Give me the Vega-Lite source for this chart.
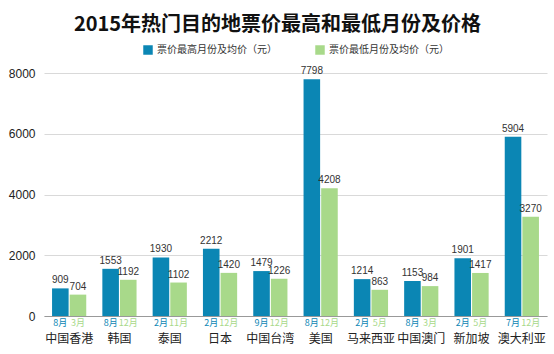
{
  "$schema": "https://vega.github.io/schema/vega-lite/v6.json",
  "width": 503,
  "height": 243,
  "autosize": {"type": "none"},
  "padding": {"left": 44, "top": 73, "right": 7, "bottom": 38},
  "background": "white",
  "config": {
    "font": "Liberation Sans",
    "view": {"stroke": null},
    "legend": {"layout": {"top": {"anchor": "middle"}}}
  },
  "title": {
    "text": "2015年热门目的地票价最高和最低月份及价格",
    "font": "Noto Sans CJK SC",
    "fontSize": 20,
    "fontWeight": "bold",
    "color": "#111111",
    "anchor": "middle",
    "offset": 10,
    "dx": -18
  },
  "data": {
    "values": [
      {"country": "中国香港", "series": "票价最高月份及均价（元）", "value": 909, "month": "8月"},
      {"country": "中国香港", "series": "票价最低月份及均价（元）", "value": 704, "month": "3月"},
      {"country": "韩国", "series": "票价最高月份及均价（元）", "value": 1553, "month": "8月"},
      {"country": "韩国", "series": "票价最低月份及均价（元）", "value": 1192, "month": "12月"},
      {"country": "泰国", "series": "票价最高月份及均价（元）", "value": 1930, "month": "2月"},
      {"country": "泰国", "series": "票价最低月份及均价（元）", "value": 1102, "month": "11月"},
      {"country": "日本", "series": "票价最高月份及均价（元）", "value": 2212, "month": "2月"},
      {"country": "日本", "series": "票价最低月份及均价（元）", "value": 1420, "month": "12月"},
      {"country": "中国台湾", "series": "票价最高月份及均价（元）", "value": 1479, "month": "9月"},
      {"country": "中国台湾", "series": "票价最低月份及均价（元）", "value": 1226, "month": "12月"},
      {"country": "美国", "series": "票价最高月份及均价（元）", "value": 7798, "month": "8月"},
      {"country": "美国", "series": "票价最低月份及均价（元）", "value": 4208, "month": "12月"},
      {"country": "马来西亚", "series": "票价最高月份及均价（元）", "value": 1214, "month": "2月"},
      {"country": "马来西亚", "series": "票价最低月份及均价（元）", "value": 863, "month": "5月"},
      {"country": "中国澳门", "series": "票价最高月份及均价（元）", "value": 1153, "month": "8月"},
      {"country": "中国澳门", "series": "票价最低月份及均价（元）", "value": 984, "month": "3月"},
      {"country": "新加坡", "series": "票价最高月份及均价（元）", "value": 1901, "month": "2月"},
      {"country": "新加坡", "series": "票价最低月份及均价（元）", "value": 1417, "month": "5月"},
      {"country": "澳大利亚", "series": "票价最高月份及均价（元）", "value": 5904, "month": "7月"},
      {"country": "澳大利亚", "series": "票价最低月份及均价（元）", "value": 3270, "month": "12月"}
    ]
  },
  "encoding": {
    "x": {
      "field": "country",
      "type": "nominal",
      "sort": null,
      "scale": {"paddingInner": 0.32, "paddingOuter": 0.16},
      "axis": {
        "title": null,
        "labelAngle": 0,
        "ticks": false,
        "domainColor": "#999999",
        "labelFont": "Noto Sans CJK SC",
        "labelFontSize": 12,
        "labelColor": "#222222",
        "labelPadding": 17
      }
    },
    "xOffset": {
      "field": "series",
      "type": "nominal",
      "sort": ["票价最高月份及均价（元）", "票价最低月份及均价（元）"],
      "scale": {"paddingInner": 0.06}
    }
  },
  "layer": [
    {
      "mark": {"type": "bar"},
      "encoding": {
        "y": {
          "field": "value",
          "type": "quantitative",
          "scale": {"domain": [0, 8000]},
          "axis": {
            "title": null,
            "values": [0, 2000, 4000, 6000, 8000],
            "format": "d",
            "domain": false,
            "ticks": false,
            "gridColor": "#d9d9d9",
            "labelFontSize": 12,
            "labelColor": "#222222",
            "labelPadding": 9
          }
        },
        "color": {
          "field": "series",
          "type": "nominal",
          "sort": ["票价最高月份及均价（元）", "票价最低月份及均价（元）"],
          "scale": {"range": ["#0b86b4", "#a8d98a"]},
          "legend": {
            "title": null,
            "orient": "top",
            "direction": "horizontal",
            "symbolType": "square",
            "symbolSize": 90,
            "symbolStrokeWidth": 0,
            "labelFont": "Noto Sans CJK SC",
            "labelFontSize": 10,
            "labelColor": "#333333",
            "columnPadding": 38,
            "offset": 18
          }
        }
      }
    },
    {
      "mark": {"type": "text", "baseline": "bottom", "dy": -3, "fontSize": 10, "color": "#333333"},
      "encoding": {
        "y": {"field": "value", "type": "quantitative"},
        "text": {"field": "value", "type": "quantitative", "format": "d"}
      }
    },
    {
      "mark": {"type": "text", "baseline": "middle", "dy": 7, "fontSize": 9, "font": "Noto Sans CJK SC"},
      "encoding": {
        "y": {"datum": 0, "type": "quantitative"},
        "text": {"field": "month"},
        "color": {
          "field": "series",
          "type": "nominal",
          "sort": ["票价最高月份及均价（元）", "票价最低月份及均价（元）"]
        }
      }
    }
  ]
}
